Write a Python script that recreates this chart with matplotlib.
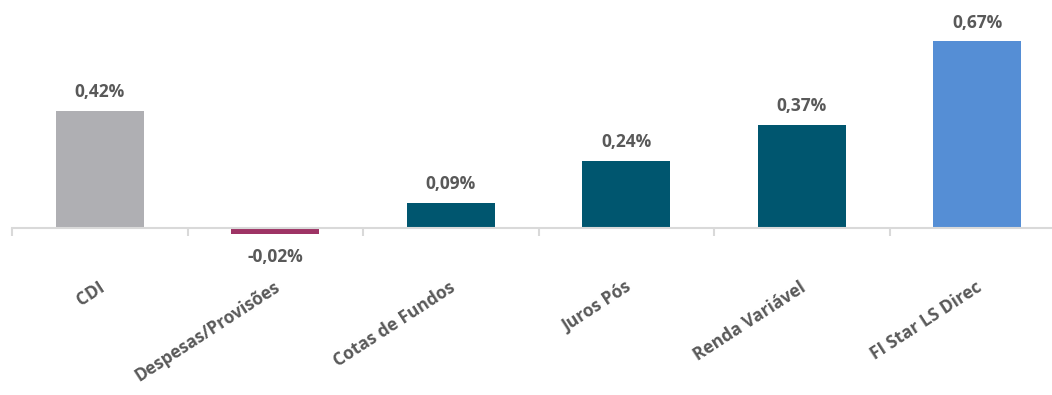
import matplotlib.pyplot as plt
import matplotlib.transforms as mtransforms
from matplotlib.ticker import FixedLocator

categories = ["CDI", "Despesas/Provisões", "Cotas de Fundos", "Juros Pós", "Renda Variável", "FI Star LS Direc"]
values = [0.42, -0.02, 0.09, 0.24, 0.37, 0.67]
colors = ["#AFAFB3", "#9E3465", "#00566F", "#00566F", "#00566F", "#558ED5"]

plt.rcParams["font.family"] = ["Open Sans", "DejaVu Sans"]
text_color = "#595959"

fig = plt.figure(figsize=(10.52, 3.95), dpi=100)
# axes runs a bit past the right edge, as in the original crop
ax = fig.add_axes([12 / 1052, (395 - 242) / 395, 1053 / 1052, 223 / 395])

x = list(range(len(categories)))
ax.bar(x, values, width=0.5, color=colors, zorder=2)

ax.set_xlim(-0.5, len(categories) - 0.5)
ax.set_ylim(-0.05, 0.75)

for i, v in enumerate(values):
    label = f"{v:.2f}%".replace(".", ",")
    if v >= 0:
        ax.annotate(label, (i, v), xytext=(0, 7), textcoords="offset points",
                    ha="center", va="bottom", fontsize=12.5, fontweight="bold", color=text_color)
    else:
        ax.annotate(label, (i, v), xytext=(0, -10), textcoords="offset points",
                    ha="center", va="top", fontsize=12.5, fontweight="bold", color=text_color)

for s in ["top", "right", "left"]:
    ax.spines[s].set_visible(False)
ax.spines["bottom"].set_position(("data", 0))
ax.spines["bottom"].set_color("#D9D9D9")
ax.spines["bottom"].set_linewidth(1.5)
ax.set_yticks([])

ax.set_xticks(x)
ax.set_xticklabels(categories, rotation=33, ha="right", rotation_mode="anchor",
                   fontsize=12.5, fontweight="bold", color=text_color)
ax.tick_params(axis="x", which="major", length=0, pad=36)
shift = mtransforms.ScaledTranslation(-2 / 100, 0, fig.dpi_scale_trans)
for lbl in ax.get_xticklabels():
    lbl.set_transform(lbl.get_transform() + shift)
ax.xaxis.set_minor_locator(FixedLocator([i - 0.5 for i in range(len(categories) + 1)]))
ax.tick_params(axis="x", which="minor", length=6, width=1.5, color="#D9D9D9", direction="out")

fig.savefig("out.png", dpi=100)
